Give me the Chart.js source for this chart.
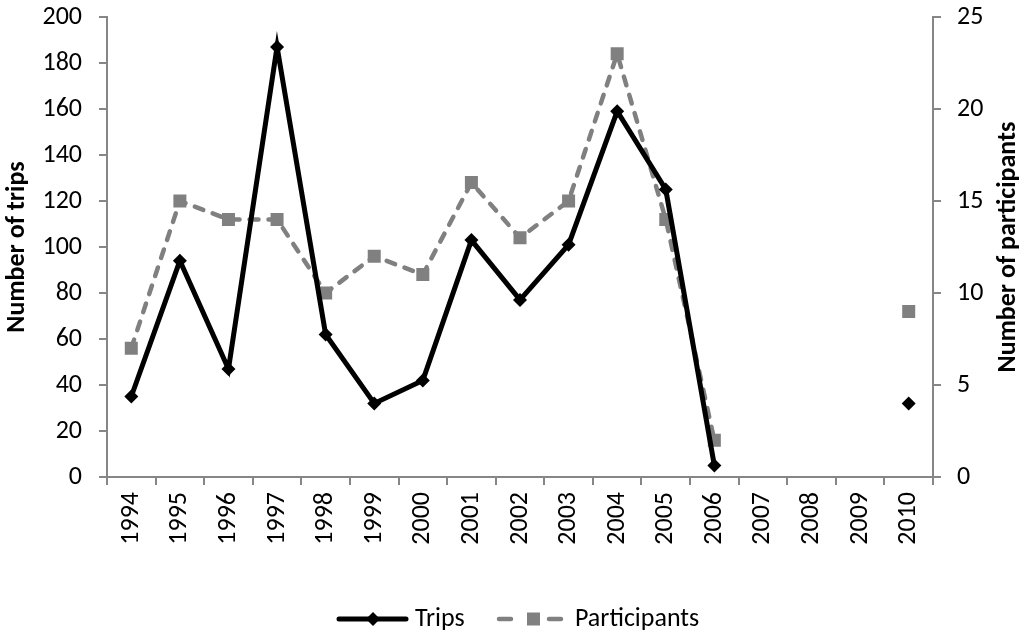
<!DOCTYPE html>
<html>
<head>
<meta charset="utf-8">
<script src="https://cdn.jsdelivr.net/npm/chart.js@4.4.1/dist/chart.umd.min.js"></script>
<style>
  html, body { margin: 0; padding: 0; background: #fff; }
  #wrap { width: 1033px; height: 634px; }
</style>
</head>
<body>
<div id="wrap"><canvas id="chart" width="1033" height="634"></canvas></div>
<script>
const years = ["1994", "1995", "1996", "1997", "1998", "1999", "2000", "2001", "2002",
  "2003", "2004", "2005", "2006", "2007", "2008", "2009", "2010"];
const trips = [35, 94, 47, 187, 62, 32, 42, 103, 77, 101, 159, 125, 5, null, null, null, 32];
const participants = [7, 15, 14, 14, 10, 12, 11, 16, 13, 15, 23, 14, 2, null, null, null, 9];

const FONT = "Carlito, Calibri, 'Open Sans', sans-serif";
const AXIS_GREY = "#868686";
const TRIPS_COLOR = "#000000";
const PART_COLOR = "#808080";

// right axis title reads bottom-to-top + the legend with line/marker icons
const extras = {
  id: "extras",
  afterDraw(chart) {
    const ctx = chart.ctx;
    const area = chart.chartArea;
    ctx.save();

    ctx.fillStyle = "#000";
    ctx.font = "bold 26px " + FONT;
    ctx.textAlign = "center";
    ctx.textBaseline = "middle";
    ctx.translate(1008, (area.top + area.bottom) / 2);
    ctx.rotate(-Math.PI / 2);
    ctx.fillText("Number of participants", 0, 0);
    ctx.setTransform(1, 0, 0, 1, 0, 0);

    const ly = 619;
    // Trips
    ctx.strokeStyle = TRIPS_COLOR;
    ctx.lineWidth = 5;
    ctx.lineCap = "round";
    ctx.beginPath();
    ctx.moveTo(339, ly);
    ctx.lineTo(406, ly);
    ctx.stroke();
    ctx.fillStyle = TRIPS_COLOR;
    ctx.beginPath();
    ctx.moveTo(373, ly - 7);
    ctx.lineTo(380, ly);
    ctx.lineTo(373, ly + 7);
    ctx.lineTo(366, ly);
    ctx.closePath();
    ctx.fill();

    // Participants
    ctx.strokeStyle = PART_COLOR;
    ctx.lineWidth = 4.5;
    ctx.beginPath();
    ctx.moveTo(499, ly);
    ctx.lineTo(511, ly);
    ctx.moveTo(549, ly);
    ctx.lineTo(561, ly);
    ctx.stroke();
    ctx.fillStyle = PART_COLOR;
    ctx.fillRect(527, ly - 6.5, 13, 13);

    ctx.fillStyle = "#000";
    ctx.font = "26px " + FONT;
    ctx.textAlign = "left";
    ctx.fillText("Trips", 415, ly);
    ctx.fillText("Participants", 575, ly);
    ctx.restore();
  },
};

// fixed widths for the value axes, no extra room above the top tick
function fitY(width) {
  return (scale) => {
    scale.width = width;
    scale.paddingTop = 0;
    scale.paddingBottom = 0;
  };
}

new Chart(document.getElementById("chart").getContext("2d"), {
  type: "line",
  data: {
    labels: years,
    datasets: [
      {
        label: "Trips",
        data: trips,
        yAxisID: "y",
        borderColor: TRIPS_COLOR,
        backgroundColor: TRIPS_COLOR,
        borderWidth: 5,
        pointStyle: "rectRot",
        pointRadius: 7,
        pointBorderWidth: 0,
        pointHoverRadius: 7,
        tension: 0,
        order: 1,
      },
      {
        label: "Participants",
        data: participants,
        yAxisID: "y2",
        borderColor: PART_COLOR,
        backgroundColor: PART_COLOR,
        borderWidth: 4.5,
        borderDash: [9, 10],
        borderCapStyle: "round",
        pointStyle: "rect",
        pointRadius: 9.2,
        pointBorderWidth: 0,
        pointHoverRadius: 9.2,
        tension: 0,
        order: 2,
      },
    ],
  },
  options: {
    responsive: false,
    animation: false,
    layout: { autoPadding: false, padding: { top: 17, left: 0, right: 0, bottom: 90 } },
    plugins: {
      tooltip: { enabled: false },
      legend: { display: false },
    },
    scales: {
      x: {
        offset: true,
        afterFit: (scale) => { scale.height = 67; },
        border: { color: AXIS_GREY, width: 2 },
        grid: { display: true, offset: true, drawOnChartArea: false, tickLength: 8, color: AXIS_GREY, lineWidth: 2 },
        ticks: {
          minRotation: 90,
          maxRotation: 90,
          color: "#000",
          padding: 7,
          font: { family: FONT, size: 26 },
        },
      },
      y: {
        position: "left",
        min: 0,
        max: 200,
        afterFit: fitY(107),
        border: { color: AXIS_GREY, width: 2 },
        grid: { drawOnChartArea: false, tickLength: 8, color: AXIS_GREY, lineWidth: 2 },
        ticks: { stepSize: 20, color: "#000", padding: 17, font: { family: FONT, size: 26 } },
        title: {
          display: true,
          text: "Number of trips",
          color: "#000",
          padding: { top: 2, bottom: 0 },
          font: { family: FONT, size: 26, weight: "bold" },
        },
      },
      y2: {
        position: "right",
        min: 0,
        max: 25,
        afterFit: fitY(100),
        border: { color: AXIS_GREY, width: 2 },
        grid: { drawOnChartArea: false, tickLength: 8, color: AXIS_GREY, lineWidth: 2 },
        ticks: { stepSize: 5, color: "#000", padding: 16, font: { family: FONT, size: 26 } },
      },
    },
  },
  plugins: [extras],
});
</script>
</body>
</html>
